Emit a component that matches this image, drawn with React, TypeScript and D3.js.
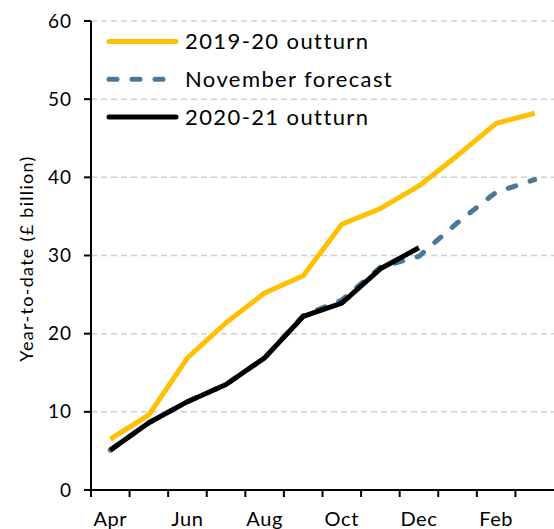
import React, { useRef, useEffect } from 'react';
import * as d3 from 'd3';

const months = ['Apr', 'May', 'Jun', 'Jul', 'Aug', 'Sep', 'Oct', 'Nov', 'Dec', 'Jan', 'Feb', 'Mar'];
const outturn1920 = [6.5, 9.6, 16.9, 21.4, 25.2, 27.4, 34.0, 36.0, 38.9, 42.8, 46.9, 48.2];
const novForecast = [5.1, 8.6, 11.3, 13.5, 16.9, 22.3, 24.3, 28.5, 29.9, 34.2, 38.1, 39.7];
const outturn2021 = [5.1, 8.6, 11.3, 13.5, 16.9, 22.2, 23.9, 28.3, 31.0];
const yTicks = [0, 10, 20, 30, 40, 50, 60];
const xLabels = ['Apr', 'Jun', 'Aug', 'Oct', 'Dec', 'Feb'];

const width = 554;
const height = 529;
const font = 'Lato, "Noto Sans", sans-serif';

export default function App() {
    const svgRef = useRef<SVGSVGElement>(null);

    useEffect(() => {
        const svg = d3.select(svgRef.current);
        svg.selectAll('*').remove();

        const left = 91, right = 554, top = 21, bottom = 490;

        const x = d3.scaleBand<string>().domain(months).range([left, right]);
        const cx = (m: string) => (x(m) as number) + x.bandwidth() / 2;
        const y = d3.scaleLinear().domain([0, 60]).range([bottom, top]);

        // gridlines
        svg.append('g')
            .selectAll('line')
            .data(yTicks.filter(d => d > 0))
            .join('line')
            .attr('x1', left)
            .attr('x2', right)
            .attr('y1', d => y(d))
            .attr('y2', d => y(d))
            .attr('stroke', '#d0d0d0')
            .attr('stroke-width', 1.5)
            .attr('stroke-dasharray', '6,4');

        // y axis
        svg.append('line')
            .attr('x1', left).attr('x2', left)
            .attr('y1', top).attr('y2', bottom)
            .attr('stroke', '#000').attr('stroke-width', 2);
        svg.append('g')
            .selectAll('line')
            .data(yTicks)
            .join('line')
            .attr('x1', left - 7).attr('x2', left)
            .attr('y1', d => y(d)).attr('y2', d => y(d))
            .attr('stroke', '#000').attr('stroke-width', 2);
        svg.append('g')
            .selectAll('text')
            .data(yTicks)
            .join('text')
            .attr('x', left - 19)
            .attr('y', d => y(d))
            .attr('dy', '0.35em')
            .attr('text-anchor', 'end')
            .attr('font-family', font)
            .attr('font-size', 19)
            .attr('letter-spacing', 1)
            .text(d => d);

        // x axis
        svg.append('line')
            .attr('x1', left - 7).attr('x2', right)
            .attr('y1', bottom).attr('y2', bottom)
            .attr('stroke', '#000').attr('stroke-width', 2);
        svg.append('g')
            .selectAll('line')
            .data(months)
            .join('line')
            .attr('x1', d => x(d) as number).attr('x2', d => x(d) as number)
            .attr('y1', bottom).attr('y2', bottom + 7)
            .attr('stroke', '#000').attr('stroke-width', 2);
        svg.append('g')
            .selectAll('text')
            .data(xLabels)
            .join('text')
            .attr('x', d => cx(d))
            .attr('y', bottom + 36)
            .attr('text-anchor', 'middle')
            .attr('font-family', font)
            .attr('font-size', 20)
            .attr('letter-spacing', 0.6)
            .text(d => d);

        // axis title
        svg.append('text')
            .attr('transform', `translate(27,${(top + bottom) / 2 + 3}) rotate(-90)`)
            .attr('dy', '0.35em')
            .attr('text-anchor', 'middle')
            .attr('font-family', font)
            .attr('font-size', 18)
            .attr('letter-spacing', 1.3)
            .text('Year-to-date (£ billion)');

        const line = d3.line<number>()
            .x((d, i) => cx(months[i]))
            .y(d => y(d));

        const series = [
            { name: '2019-20 outturn', values: outturn1920, color: '#ffc000', dash: null },
            { name: 'November forecast', values: novForecast, color: '#4a7896', dash: '8,15' },
            { name: '2020-21 outturn', values: outturn2021, color: '#000000', dash: null }
        ];

        series.forEach(s => {
            svg.append('path')
                .datum(s.values)
                .attr('d', line)
                .attr('fill', 'none')
                .attr('stroke', s.color)
                .attr('stroke-width', 5)
                .attr('stroke-linecap', s.dash ? 'round' : 'butt')
                .attr('stroke-linejoin', 'round')
                .attr('stroke-dasharray', s.dash);
        });

        // legend
        const lg = svg.append('g');
        series.forEach((s, i) => {
            const ly = 41.5 + i * 37.8;
            lg.append('line')
                .attr('x1', 109).attr('x2', 176)
                .attr('y1', ly).attr('y2', ly)
                .attr('stroke', s.color)
                .attr('stroke-width', 5)
                .attr('stroke-linecap', 'round')
                .attr('stroke-dasharray', s.dash ? '8,15' : null);
            lg.append('text')
                .attr('x', 185)
                .attr('y', ly)
                .attr('dy', '0.35em')
                .attr('font-family', font)
                .attr('font-size', 22)
                .attr('letter-spacing', 1.4)
                .text(s.name);
        });
    }, []);

    return (
        <svg ref={svgRef} width={width} height={height}
            style={{ position: 'absolute', left: 0, top: 0, background: '#fff' }} />
    );
}
